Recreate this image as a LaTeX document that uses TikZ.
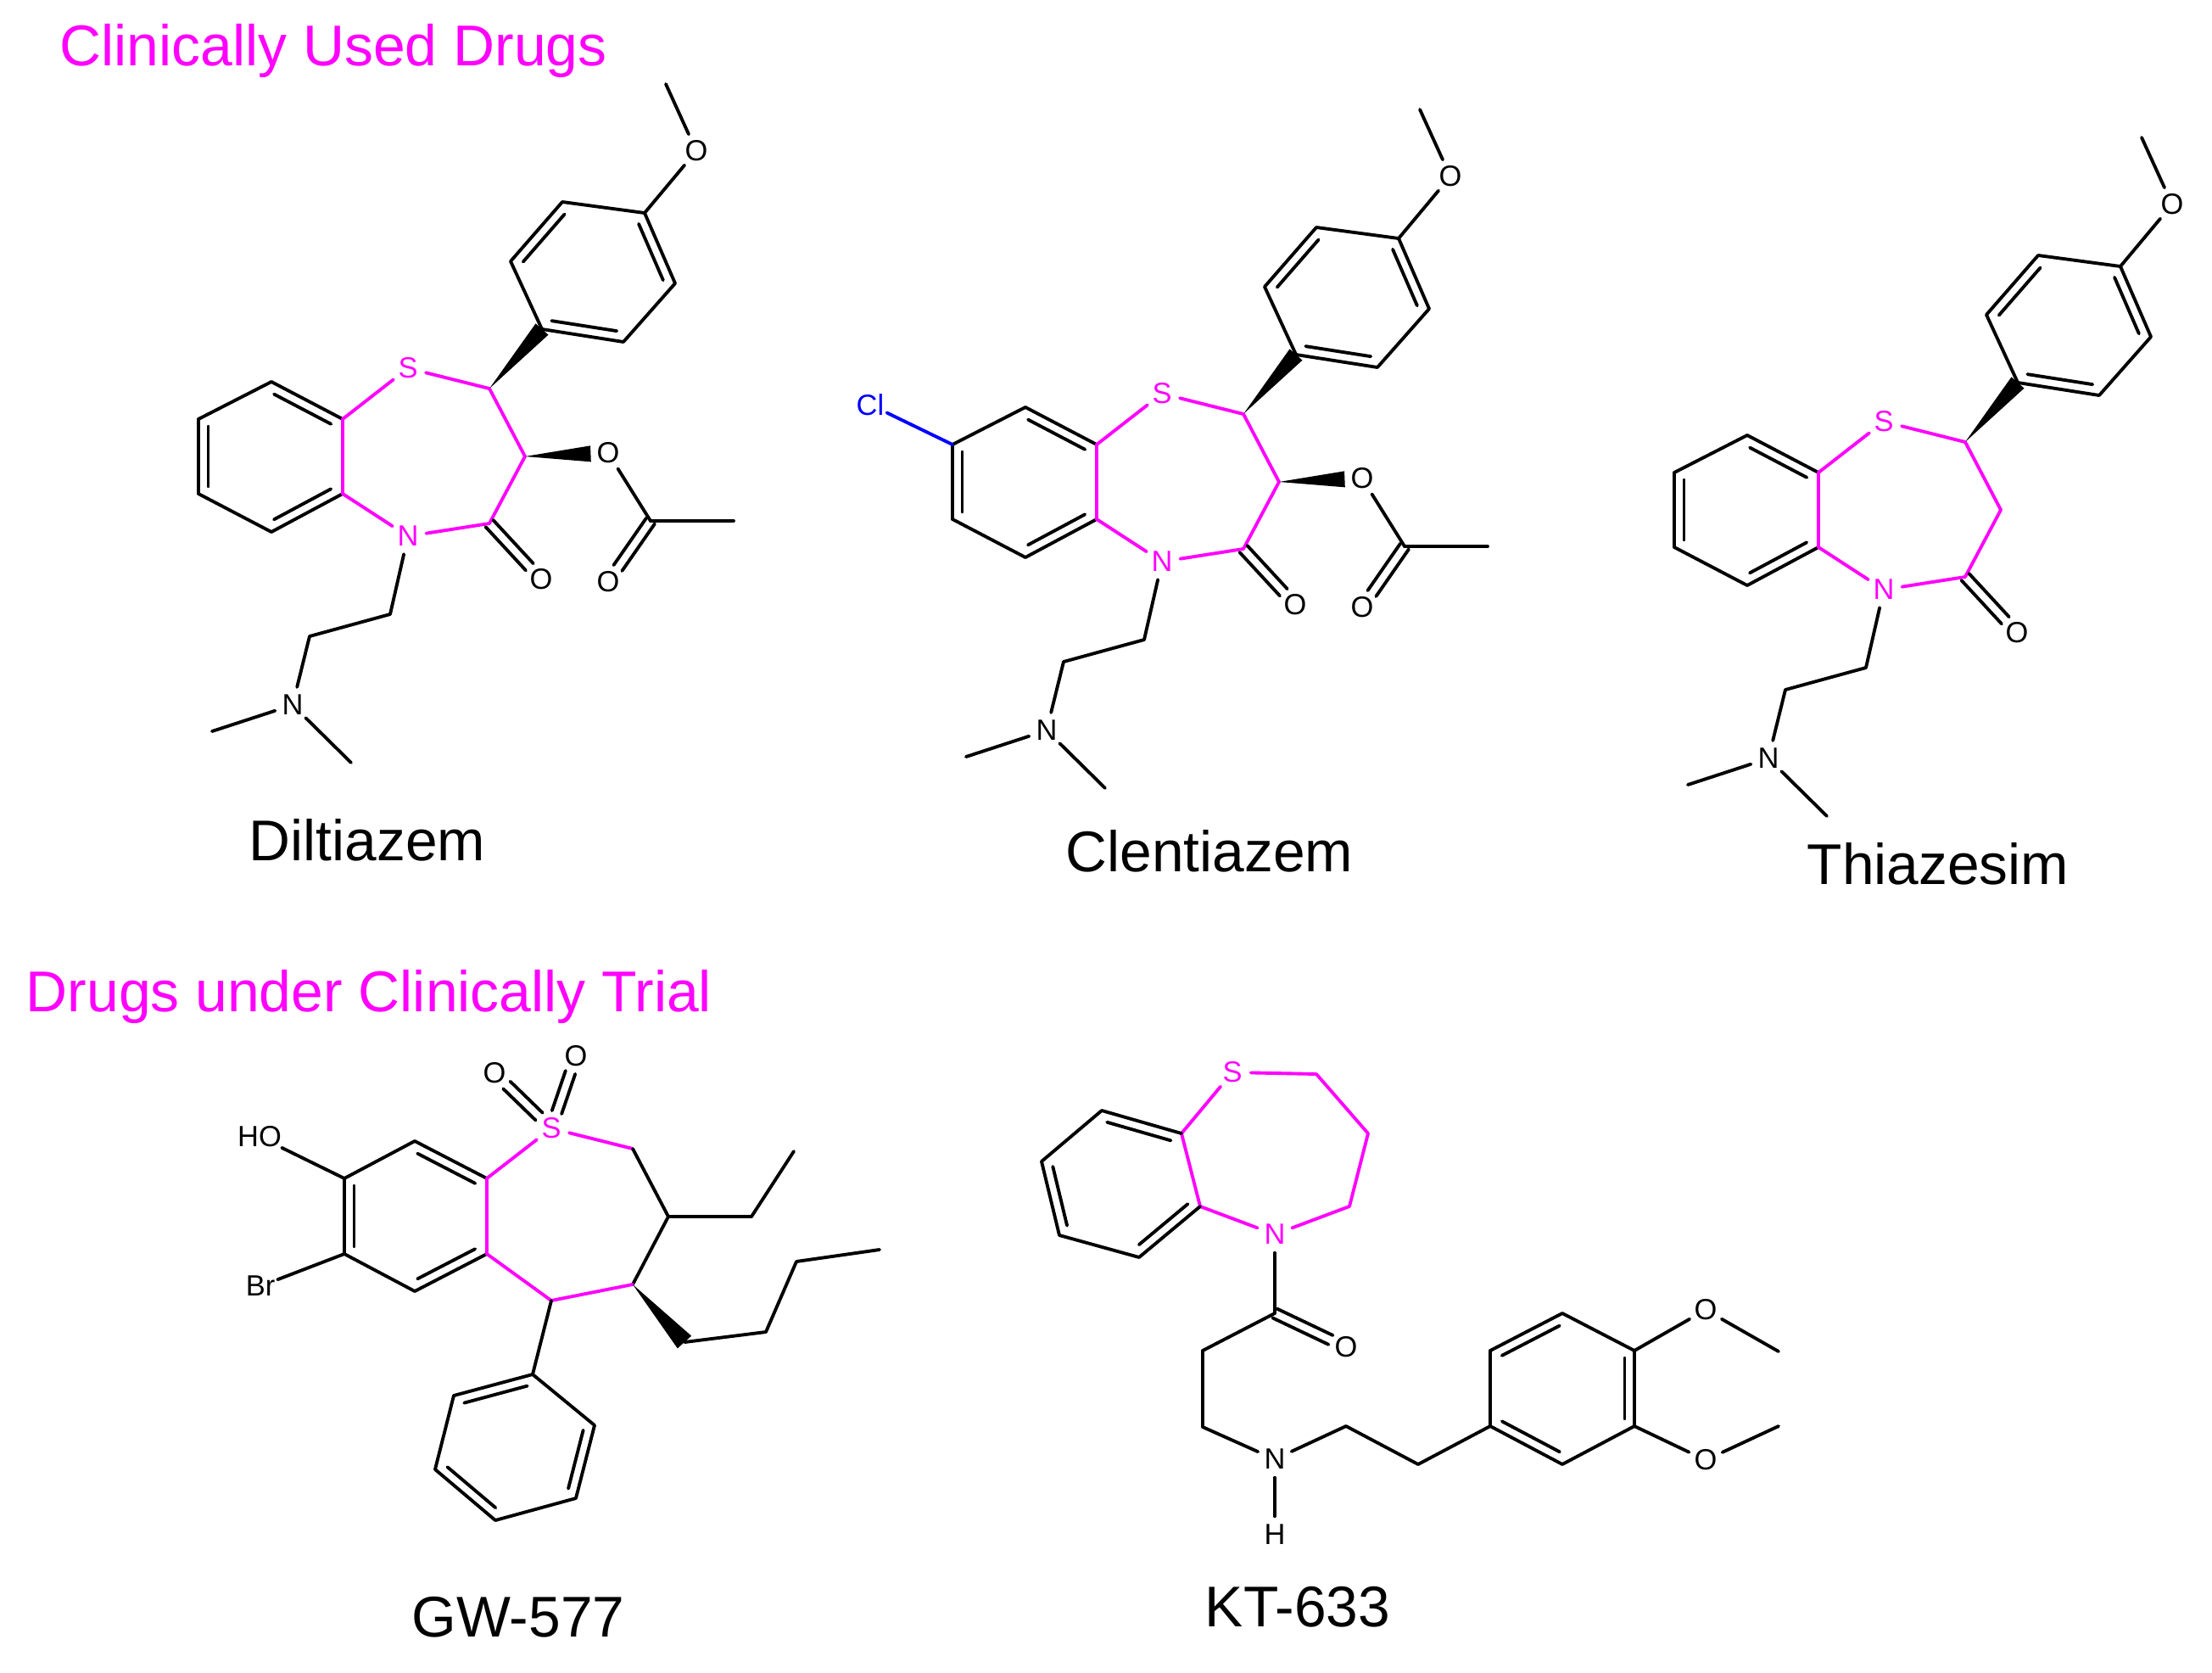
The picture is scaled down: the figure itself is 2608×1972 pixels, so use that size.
\documentclass[tikz,border=0pt]{standalone}
\usepackage{fontspec}
\setmainfont{Liberation Sans}
\usetikzlibrary{calc}
\definecolor{mag}{HTML}{FF00FF}
\definecolor{clblue}{HTML}{0000FF}
\tikzset{
  bond/.style={line width=1.1pt,line cap=round,line join=round,black},
  hbond/.style={bond,mag},
  atom/.style={circle,inner sep=0pt,minimum size=0.42cm,font=\fontsize{9.8}{10}\selectfont,text=black},
  hatom/.style={atom,text=mag},
  drugname/.style={inner sep=0pt,font=\fontsize{19.25}{22}\selectfont,text=black},
  grouptitle/.style={inner sep=0pt,anchor=west,font=\fontsize{19.3}{22}\selectfont,text=mag},
  wedgefill/.style={fill=black,draw=none}
}
% double bond in a ring: inner line on the left of a->b (ring interior)
\newcommand\dblring[2]{%
  \draw[bond] (#1) -- (#2);
  \draw[bond] ($(#1)!.1!(#2)!0.115cm!90:(#2)$) -- ($(#1)!.9!(#2)!0.115cm!-90:(#1)$);}
% symmetric double bond to a heteroatom node
\newcommand\dblox[3][0]{%
  \draw[bond,shorten >=0.2cm,shorten <=#1cm] ($(#2)!0.06cm!90:(#3)$) -- ($(#3)!0.06cm!-90:(#2)$);
  \draw[bond,shorten >=0.2cm,shorten <=#1cm] ($(#2)!0.06cm!-90:(#3)$) -- ($(#3)!0.06cm!90:(#2)$);}
% wedge: tip at a, wide end centred at fraction f of a->b, half width w
\newcommand\wdg[4]{%
  \fill[wedgefill] (#1) -- ($(#1)!#3!(#2)!#4!90:(#1)$) -- ($(#1)!#3!(#2)!#4!-90:(#1)$) -- cycle;}
% benzothiazepine core shared by the three clinical drugs
\newcommand\coremol{%
  \coordinate (me) at (785,99);
  \node[atom] (ome) at (821,178) {O};
  \coordinate (p4) at (760,251);
  \coordinate (p3) at (663,238);
  \coordinate (p2) at (602,308);
  \coordinate (p1) at (639,388);
  \coordinate (p6) at (735,403);
  \coordinate (p5) at (796,334);
  \coordinate (c2) at (577,458);
  \node[hatom] (s) at (481,434) {S};
  \coordinate (c9a) at (404,494);
  \coordinate (b1) at (320,450);
  \coordinate (b2) at (234,494);
  \coordinate (b3) at (234,582);
  \coordinate (b4) at (320,627);
  \coordinate (c5a) at (404,582);
  \node[hatom] (n) at (481,632) {N};
  \coordinate (c4) at (577,617);
  \coordinate (c3) at (619,538);
  \node[atom] (oketo) at (638,683) {O};
  \coordinate (ch1) at (460,724);
  \coordinate (ch2) at (365,750);
  \node[atom] (nme) at (345,831) {N};
  \coordinate (mel) at (250,862);
  \coordinate (mer) at (414,899);
  \draw[bond] (me) -- (ome);
  \draw[bond] (ome) -- (p4);
  \draw[bond] (p4) -- (p3);
  \draw[bond] (p2) -- (p1);
  \draw[bond] (p6) -- (p5);
  \dblring{p1}{p6}
  \dblring{p5}{p4}
  \dblring{p3}{p2}
  \wdg{c2}{p1}{1}{0.1cm}
  \draw[bond] (b1) -- (b2);
  \draw[bond] (b3) -- (b4);
  \dblring{c9a}{b1}
  \dblring{b2}{b3}
  \dblring{b4}{c5a}
  \draw[hbond] (c9a) -- (s);
  \draw[hbond] (s) -- (c2);
  \draw[hbond] (c2) -- (c3);
  \draw[hbond] (c3) -- (c4);
  \draw[hbond] (c4) -- (n);
  \draw[hbond] (n) -- (c5a);
  \draw[hbond] (c5a) -- (c9a);
  \dblox{c4}{oketo}
  \draw[bond] (n) -- (ch1);
  \draw[bond] (ch1) -- (ch2);
  \draw[bond] (ch2) -- (nme);
  \draw[bond] (nme) -- (mel);
  \draw[bond] (nme) -- (mer);
}
\newcommand\acetate{%
  \node[atom] (oest) at (717,534) {O};
  \coordinate (cac) at (767,614);
  \coordinate (mac) at (865,614);
  \node[atom] (oac) at (717,686) {O};
  \wdg{c3}{oest}{0.79}{0.095cm}
  \draw[bond] (oest) -- (cac);
  \draw[bond] (cac) -- (mac);
  \dblox{cac}{oac}
}
\begin{document}
\begin{tikzpicture}[x=0.01cm,y=-0.01cm]
\useasboundingbox[fill=white] (0,0) rectangle (2608,1972);

\node[grouptitle] (t1) at (70,60) {Clinically Used Drugs};
\node[grouptitle] (t2) at (30,1175) {Drugs under Clinically Trial};
\node[drugname] (n1) at (433,990) {Diltiazem};
\node[drugname] (n2) at (1426,1003) {Clentiazem};
\node[drugname] (n3) at (2285,1018) {Thiazesim};
\node[drugname] (n4) at (611,1906) {GW-577};
\node[drugname] (n5) at (1530,1894) {KT-633};

\begin{scope}[name prefix=a-]
  \coremol
  \acetate
\end{scope}

\begin{scope}[shift={(889,30)},name prefix=b-]
  \coremol
  \acetate
  \node[atom,text=clblue] (cl) at (137,447) {Cl};
  \draw[bond,clblue] (cl) -- (b2);
\end{scope}

\begin{scope}[shift={(1740,63)},name prefix=c-]
  \coremol
\end{scope}

% GW-577
\coordinate (g9a) at (574,1389);
\coordinate (gt) at (489,1345);
\coordinate (g8) at (406,1389);
\coordinate (g7) at (406,1478);
\coordinate (gb) at (489,1522);
\coordinate (g5a) at (574,1478);
\node[hatom] (gs) at (650,1330) {S};
\node[atom] (go1) at (583,1265) {O};
\node[atom] (go2) at (679,1245) {O};
\coordinate (gch) at (746,1354);
\coordinate (gc3) at (788,1434);
\coordinate (get1) at (886,1434);
\coordinate (get2) at (936,1357);
\coordinate (gc4) at (746,1514);
\coordinate (gc5) at (650,1533);
\node[atom] (gho) at (306,1340) {HO};
\node[atom] (gbr) at (307,1516) {Br};
\coordinate (gbu1) at (807,1582);
\coordinate (gbu2) at (903,1570);
\coordinate (gbu3) at (939,1487);
\coordinate (gbu4) at (1037,1473);
\coordinate (gp0) at (628,1620);
\coordinate (gpa) at (535,1645);
\coordinate (gpb) at (513,1732);
\coordinate (gpc) at (584,1792);
\coordinate (gpd) at (679,1766);
\coordinate (gpe) at (701,1680);
\draw[bond] (gt) -- (g8);
\draw[bond] (g7) -- (gb);
\dblring{g9a}{gt}
\dblring{g8}{g7}
\dblring{gb}{g5a}
\draw[hbond] (g9a) -- (gs);
\draw[hbond] (gs) -- (gch);
\draw[bond] (gch) -- (gc3);
\draw[bond] (gc3) -- (gc4);
\draw[hbond] (gc4) -- (gc5);
\draw[hbond] (gc5) -- (g5a);
\draw[hbond] (g5a) -- (g9a);
\dblox[0.2]{gs}{go1}
\dblox[0.2]{gs}{go2}
\draw[bond] (gc3) -- (get1);
\draw[bond] (get1) -- (get2);
\draw[bond] (g8) -- (gho);
\draw[bond] (g7) -- (gbr);
\wdg{gc4}{gbu1}{1}{0.11cm}
\draw[bond] (gbu1) -- (gbu2);
\draw[bond] (gbu2) -- (gbu3);
\draw[bond] (gbu3) -- (gbu4);
\draw[bond] (gc5) -- (gp0);
\draw[bond] (gpa) -- (gpb);
\draw[bond] (gpc) -- (gpd);
\draw[bond] (gpe) -- (gp0);
\dblring{gp0}{gpa}
\dblring{gpb}{gpc}
\dblring{gpd}{gpe}

% KT-633
\node[hatom] (ks) at (1453,1264) {S};
\coordinate (kc1) at (1552,1266);
\coordinate (kc2) at (1613,1336);
\coordinate (kc3) at (1591,1422);
\node[hatom] (kn) at (1503,1455) {N};
\coordinate (k5a) at (1415,1422);
\coordinate (k9a) at (1393,1336);
\coordinate (kt) at (1299,1309);
\coordinate (kl) at (1228,1369);
\coordinate (kbl) at (1249,1456);
\coordinate (kb) at (1343,1482);
\coordinate (kco) at (1503,1548);
\node[atom] (ko) at (1587,1588) {O};
\coordinate (kd1) at (1418,1592);
\coordinate (kd2) at (1418,1682);
\node[atom] (knh) at (1503,1720) {N};
\node[atom] (kh) at (1503,1809) {H};
\coordinate (ke1) at (1587,1681);
\coordinate (ke2) at (1672,1726);
\coordinate (a1) at (1757,1681);
\coordinate (a2) at (1757,1592);
\coordinate (a3) at (1842,1548);
\coordinate (a4) at (1927,1592);
\coordinate (a5) at (1927,1681);
\coordinate (a6) at (1842,1726);
\node[atom] (ko1) at (2011,1544) {O};
\coordinate (kme1) at (2097,1593);
\node[atom] (ko2) at (2011,1721) {O};
\coordinate (kme2) at (2097,1681);
\draw[hbond] (ks) -- (kc1);
\draw[hbond] (kc1) -- (kc2);
\draw[hbond] (kc2) -- (kc3);
\draw[hbond] (kc3) -- (kn);
\draw[hbond] (kn) -- (k5a);
\draw[hbond] (k5a) -- (k9a);
\draw[hbond] (k9a) -- (ks);
\draw[bond] (kt) -- (kl);
\draw[bond] (kbl) -- (kb);
\dblring{k9a}{kt}
\dblring{kl}{kbl}
\dblring{kb}{k5a}
\draw[bond] (kn) -- (kco);
\dblox{kco}{ko}
\draw[bond] (kco) -- (kd1);
\draw[bond] (kd1) -- (kd2);
\draw[bond] (kd2) -- (knh);
\draw[bond] (knh) -- (kh);
\draw[bond] (knh) -- (ke1);
\draw[bond] (ke1) -- (ke2);
\draw[bond] (ke2) -- (a1);
\draw[bond] (a6) -- (a5);
\draw[bond] (a4) -- (a3);
\draw[bond] (a2) -- (a1);
\dblring{a1}{a6}
\dblring{a5}{a4}
\dblring{a3}{a2}
\draw[bond] (a4) -- (ko1);
\draw[bond] (ko1) -- (kme1);
\draw[bond] (a5) -- (ko2);
\draw[bond] (ko2) -- (kme2);
\end{tikzpicture}
\end{document}
